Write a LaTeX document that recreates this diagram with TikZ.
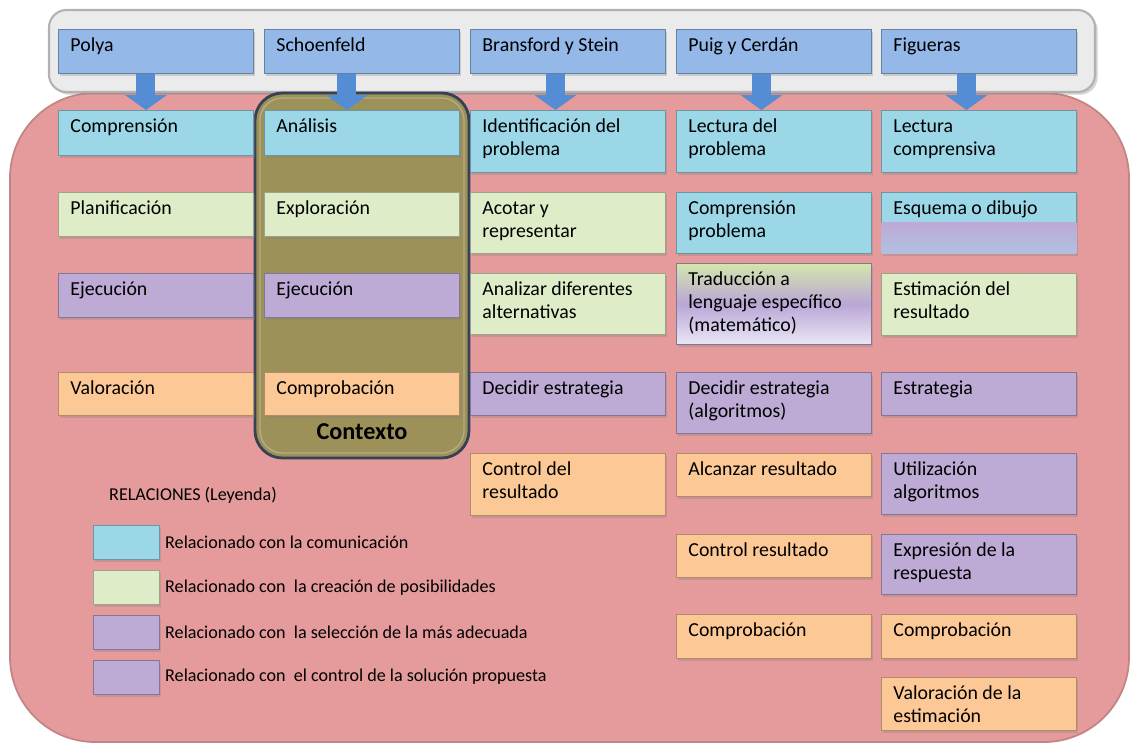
\documentclass[tikz,border=0pt]{standalone}
\usepackage{fontspec}
\setmainfont{Carlito}
\usepackage{tikz}
\usetikzlibrary{positioning, arrows.meta, shadows}

\definecolor{rosa}{RGB}{229,155,155}
\definecolor{azulcab}{RGB}{148,184,232}
\definecolor{azul}{RGB}{156,215,232}
\definecolor{verde}{RGB}{223,236,200}
\definecolor{morado}{RGB}{189,170,213}
\definecolor{naranja}{RGB}{252,200,150}
\definecolor{oliva}{RGB}{157,145,90}
\definecolor{flechaazul}{RGB}{84,141,212}
\definecolor{lavanda}{RGB}{234,231,245}
\definecolor{verdegrad}{RGB}{212,230,172}
\definecolor{moradograd}{RGB}{186,166,214}
\definecolor{esqbajo}{RGB}{176,192,226}

\newlength\px
\setlength\px{0.02cm}
\newcommand{\cajafont}{\fontsize{11.3}{13.2}\selectfont}
\newcommand{\leyfont}{\fontsize{10.3}{12}\selectfont}
% texto arriba a la izquierda, alto fijo en px
\newcommand{\ctexto}[2]{\parbox[t][#1\px][t]{3.42cm}{\rule{0pt}{0.44cm}#2}}

\tikzset{
    caja/.style={draw=#1!70!black, fill=#1, line width=0.5pt, anchor=north west,
        inner xsep=0.24cm, inner ysep=0pt, font=\cajafont,
        drop shadow={opacity=0.3, shadow xshift=1pt, shadow yshift=-1.5pt}},
    cajagrad/.style={draw=morado!70!black, line width=0.5pt, anchor=north west,
        inner xsep=0.24cm, inner ysep=0pt, font=\cajafont,
        drop shadow={opacity=0.3, shadow xshift=1pt, shadow yshift=-1.5pt}},
    flecha/.style={draw=flechaazul, line width=0.38cm,
        -{Triangle[width=0.84cm, length=0.3cm, line width=0pt]}},
    muestra/.style={draw=#1!70!black, fill=#1, line width=0.5pt,
        minimum width=1.32cm, minimum height=0.68cm, inner sep=0pt,
        drop shadow={opacity=0.3, shadow xshift=1pt, shadow yshift=-1.5pt}},
    leyenda/.style={font=\leyfont, inner xsep=0.1cm}
}

\begin{document}
\begin{tikzpicture}[x=0.02cm, y=-0.02cm]
    \useasboundingbox (0,0) rectangle (1131,745);

    % fondos
    \filldraw[fill=rosa, draw=rosa!85!black, line width=1pt, rounded corners=1.7cm]
        (10,93) rectangle (1129,742);
    \filldraw[fill=gray!16, draw=gray!60, line width=1.2pt, rounded corners=0.35cm,
        drop shadow={opacity=0.35, shadow xshift=1.5pt, shadow yshift=-1.5pt}]
        (49,10) rectangle (1095,92);
    \filldraw[fill=oliva, draw={rgb,255:red,55;green,65;blue,85}, line width=1.6pt,
        rounded corners=0.55cm] (255,93) rectangle (469,458);
    \draw[oliva!75!white, line width=0.8pt, rounded corners=0.45cm] (260,98) rectangle (464,453);
    \node[font=\fontsize{13.8}{16}\selectfont\bfseries] (contexto) at (362,432) {Contexto};

    % autores
    \node[caja=azulcab] (polya)  at (58,29)  {\ctexto{44}{Polya}};
    \node[caja=azulcab] (schoen) at (264,29) {\ctexto{44}{Schoenfeld}};
    \node[caja=azulcab] (brans)  at (470,29) {\ctexto{44}{Bransford y Stein}};
    \node[caja=azulcab] (puig)   at (676,29) {\ctexto{44}{Puig y Cerdán}};
    \node[caja=azulcab] (figu)   at (881,29) {\ctexto{44}{Figueras}};

    % fila 1
    \node[caja=azul] (compren)  at (58,110)  {\ctexto{45}{Comprensión}};
    \node[caja=azul] (analisis) at (264,110) {\ctexto{45}{Análisis}};
    \node[caja=azul] (identif)  at (470,110) {\ctexto{62}{Identificación del\\problema}};
    \node[caja=azul] (lectura)  at (676,110) {\ctexto{62}{Lectura del\\problema}};
    \node[caja=azul] (lectcomp) at (881,110) {\ctexto{62}{Lectura\\comprensiva}};

    % fila 2
    \node[caja=verde] (planif)  at (58,192)  {\ctexto{44}{Planificación}};
    \node[caja=verde] (explor)  at (264,192) {\ctexto{44}{Exploración}};
    \node[caja=verde] (acotar)  at (470,192) {\ctexto{61}{Acotar y\\representar}};
    \node[caja=azul]  (comprob) at (676,192) {\ctexto{61}{Comprensión\\problema}};
    \node[caja=azul]  (esquema) at (881,192) {\ctexto{61}{Esquema o dibujo}};
    \shade[top color=morado, bottom color=esqbajo]
        ([xshift=0.3pt]esquema.west) rectangle ([xshift=-0.3pt, yshift=0.3pt]esquema.south east);

    % fila 3
    \node[caja=morado] (ejec1)    at (58,273)  {\ctexto{44}{Ejecución}};
    \node[caja=morado] (ejec2)    at (264,273) {\ctexto{44}{Ejecución}};
    \node[caja=verde]  (analizar) at (470,273) {\ctexto{61}{Analizar diferentes\\alternativas}};
    \node[cajagrad, top color=verdegrad, bottom color=lavanda, middle color=moradograd]
        (traduc) at (676,263) {\ctexto{81}{Traducción a\\lenguaje específico\\(matemático)}};
    \node[caja=verde]  (estim)    at (881,273) {\ctexto{62}{Estimación del\\resultado}};

    % fila 4
    \node[caja=naranja] (valor)    at (58,372)  {\ctexto{43}{Valoración}};
    \node[caja=naranja] (comprob2) at (264,372) {\ctexto{43}{Comprobación}};
    \node[caja=morado]  (decidir)  at (470,372) {\ctexto{43}{Decidir estrategia}};
    \node[caja=morado]  (decidir2) at (676,372) {\ctexto{61}{Decidir estrategia\\(algoritmos)}};
    \node[caja=morado]  (estrat)   at (881,372) {\ctexto{43}{Estrategia}};

    % filas 5 a 8
    \node[caja=naranja] (control)  at (470,453) {\ctexto{62}{Control del\\resultado}};
    \node[caja=naranja] (alcanzar) at (676,453) {\ctexto{43}{Alcanzar resultado}};
    \node[caja=morado]  (utiliz)   at (881,453) {\ctexto{61}{Utilización\\algoritmos}};
    \node[caja=naranja] (contres)  at (676,534) {\ctexto{43}{Control resultado}};
    \node[caja=morado]  (expres)   at (881,534) {\ctexto{60}{Expresión de la\\respuesta}};
    \node[caja=naranja] (comprob4) at (676,614) {\ctexto{44}{Comprobación}};
    \node[caja=naranja] (comprob5) at (881,614) {\ctexto{44}{Comprobación}};
    \node[caja=naranja] (valest)   at (881,677) {\ctexto{53}{Valoración de la\\estimación}};

    % flechas
    \draw[flecha] ([xshift=-0.2cm]polya.south)  -- ([xshift=-0.2cm]compren.north);
    \draw[flecha] ([xshift=-0.3cm]schoen.south) -- ([xshift=-0.3cm]analisis.north);
    \draw[flecha] ([xshift=-0.25cm]brans.south) -- ([xshift=-0.25cm]identif.north);
    \draw[flecha] ([xshift=-0.25cm]puig.south)  -- ([xshift=-0.25cm]lectura.north);
    \draw[flecha] ([xshift=-0.25cm]figu.south)  -- ([xshift=-0.25cm]lectcomp.north);

    % leyenda
    \node[font=\leyfont, anchor=west] (titley) at (103,495) {RELACIONES (Leyenda)};
    \node[muestra=azul, anchor=north west] (m1) at (93,525) {};
    \node[muestra=verde, below=0.2cm of m1] (m2) {};
    \node[muestra=morado, below=0.2cm of m2] (m3) {};
    \node[muestra=morado, below=0.2cm of m3] (m4) {};
    \node[leyenda, right=0pt of m1] (t1) {Relacionado con la comunicación};
    \node[leyenda, right=0pt of m2] (t2) {Relacionado con\ \ la creación de posibilidades};
    \node[leyenda, right=0pt of m3] (t3) {Relacionado con\ \ la selección de la más adecuada};
    \node[leyenda, right=0pt of m4] (t4) {Relacionado con\ \ el control de la solución propuesta};
\end{tikzpicture}
\end{document}
